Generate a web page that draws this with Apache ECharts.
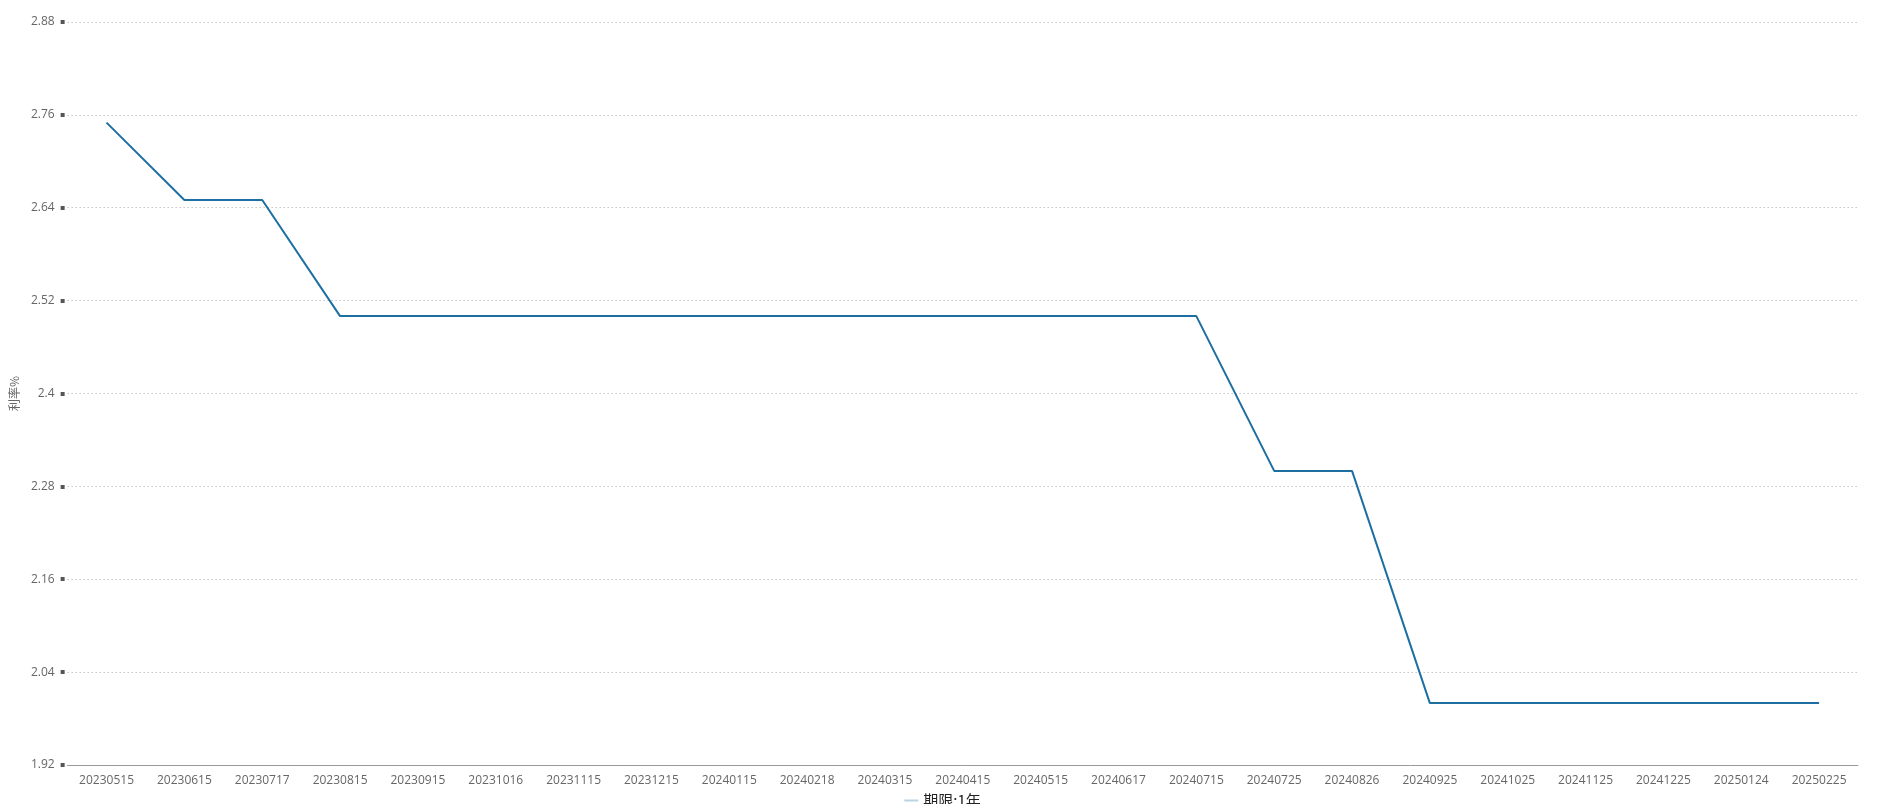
<!DOCTYPE html>
<html><head><meta charset="utf-8">
<script src="https://cdn.jsdelivr.net/npm/echarts@6/dist/echarts.min.js"></script>
<style>html,body{margin:0;padding:0;background:#fff}#c{width:1885px;height:804px}</style>
</head><body><div id="c"></div>
<script>
const categories = ['20230515','20230615','20230717','20230815','20230915','20231016','20231115','20231215','20240115','20240218','20240315','20240415','20240515','20240617','20240715','20240725','20240826','20240925','20241025','20241125','20241225','20250124','20250225'];
const rates = [2.75,2.65,2.65,2.50,2.50,2.50,2.50,2.50,2.50,2.50,2.50,2.50,2.50,2.50,2.50,2.30,2.30,2.00,2.00,2.00,2.00,2.00,2.00];
const seriesName = '期限:1年';
const yTicks = {min:1.92, max:2.88, interval:0.12};

const chart = echarts.init(document.getElementById('c'));
chart.setOption({
  animation:false,
  textStyle:{fontFamily:'"Open Sans", "Noto Sans CJK SC", sans-serif'},
  grid:{left:63, right:27, top:22, bottom:39},
  legend:{bottom:-9, left:'center', itemWidth:14, itemHeight:8, icon:'path://M0,3 L14,3 L14,5 L0,5 Z',
    textStyle:{fontSize:15, color:'#222', fontFamily:'"Noto Sans CJK SC", sans-serif'}, data:[{name:seriesName, itemStyle:{color:'#b8d3e4'}}]},
  xAxis:{type:'category', data:categories, boundaryGap:true,
    axisLine:{lineStyle:{color:'#999'}},
    axisTick:{alignWithLabel:true, lineStyle:{color:'#333'}},
    axisLabel:{color:'#666', fontSize:12, margin:10, interval:0}},
  yAxis:{type:'value', min:yTicks.min, max:yTicks.max, interval:yTicks.interval, offset:3,
    name:'利率%', nameLocation:'middle', nameGap:44, nameRotate:90,
    nameTextStyle:{color:'#666', fontSize:12, fontFamily:'"Noto Sans CJK SC", sans-serif'},
    axisLine:{show:false},
    axisTick:{show:true, length:4, inside:false, lineStyle:{color:'#555', width:4}},
    axisLabel:{color:'#666', fontSize:12, margin:10, formatter:v=>String(Math.round(v*100)/100)},
    splitLine:{lineStyle:{color:'#aaa', type:[1,3]}}},
  series:[{name:seriesName, type:'line', data:rates, symbol:'none',
    lineStyle:{color:'#1d6fa2', width:2}, itemStyle:{color:'#1d6fa2'}}]
});
</script></body></html>
